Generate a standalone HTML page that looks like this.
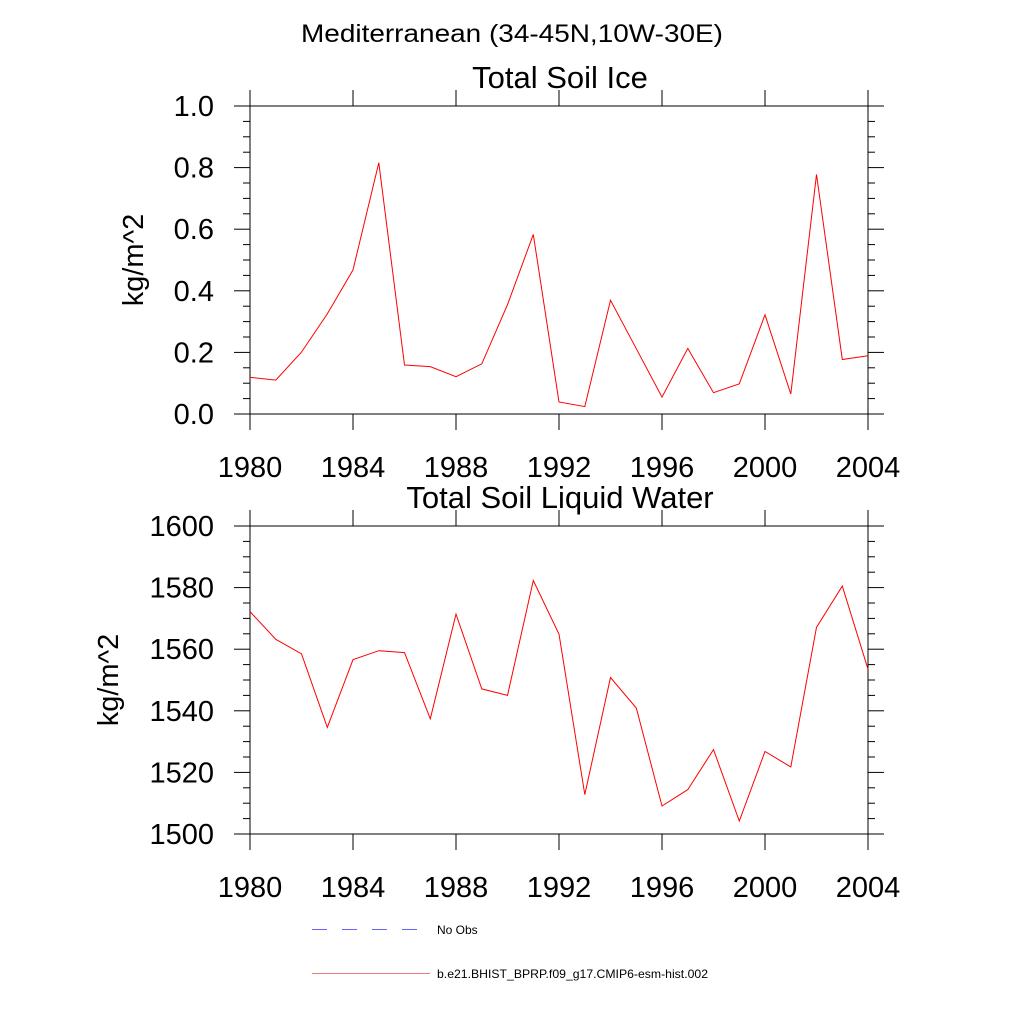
<!DOCTYPE html>
<html><head><meta charset="utf-8"><style>
html,body{margin:0;padding:0;background:#fff;}
svg{display:block;font-family:"Liberation Sans",sans-serif;}
</style></head>
<body>
<svg id="chart" width="1024" height="1024" viewBox="0 0 1024 1024">
<text x="512" y="42" font-size="25" text-anchor="middle" textLength="422" lengthAdjust="spacingAndGlyphs">Mediterranean (34-45N,10W-30E)</text>
<g id="p1"></g><g id="p2"></g>
<g>
<line x1="312" y1="929.5" x2="418" y2="929.5" stroke="#6666ff" stroke-width="1" stroke-dasharray="15,15"/>
<text x="437" y="934" font-size="12">No Obs</text>
<line x1="312" y1="973.5" x2="430" y2="973.5" stroke="#ee7777" stroke-width="1"/>
<text x="437" y="978" font-size="12" textLength="271" lengthAdjust="spacingAndGlyphs">b.e21.BHIST_BPRP.f09_g17.CMIP6-esm-hist.002</text>
</g>
</svg>
<script>
const years = [1980,1981,1982,1983,1984,1985,1986,1987,1988,1989,1990,1991,1992,1993,1994,1995,1996,1997,1998,1999,2000,2001,2002,2003,2004];
const iceValues = [0.119,0.110,0.201,0.325,0.468,0.816,0.159,0.154,0.121,0.163,0.355,0.583,0.039,0.024,0.369,0.212,0.055,0.213,0.069,0.098,0.322,0.065,0.778,0.177,0.189];
const waterValues = [1572.2,1563.2,1558.5,1534.6,1556.6,1559.5,1558.9,1537.4,1571.4,1547.1,1545.0,1582.3,1564.9,1512.8,1550.8,1540.9,1509.1,1514.4,1527.4,1504.2,1526.8,1521.8,1567.1,1580.5,1553.5];
const xTicks = [1980,1984,1988,1992,1996,2000,2004];
const iceTicks = [0,0.2,0.4,0.6,0.8,1.0];
const iceTickLabels = ["0.0","0.2","0.4","0.6","0.8","1.0"];
const waterTicks = [1500,1520,1540,1560,1580,1600];
const waterTickLabels = ["1500","1520","1540","1560","1580","1600"];

const NS="http://www.w3.org/2000/svg";
function mk(tag, attrs, parent){const e=document.createElementNS(NS,tag);for(const k in attrs)e.setAttribute(k,attrs[k]);parent.appendChild(e);return e;}

function drawPanel(g, top, bottom, ymin, ymax, ticks, labels, vals, title, prefix){
  const L=250, R=868;
  const xs=v=>L+(v-1980)/(2004-1980)*(R-L);
  const ys=v=>bottom-(v-ymin)/(ymax-ymin)*(bottom-top);
  const t=mk('text',{x:560,y:top-18,'font-size':31,'text-anchor':'middle'},g);
  
  
  t.textContent=title;
  const fr=mk('rect',{x:L,y:top,width:R-L,height:bottom-top,fill:'none',stroke:'#000','stroke-width':1},g);
  
  
  const step=(ticks[1]-ticks[0])/4;
  for(let v=ymin; v<=ymax+1e-9; v+=step){
    const y=ys(v); const r=(v-ymin)/(ticks[1]-ticks[0]); const major=Math.abs(r-Math.round(r))<1e-6;
    const len=major?16:7;
    mk('line',{x1:L-len,y1:y,x2:L,y2:y,stroke:'#000','stroke-width':1},g);
    mk('line',{x1:R,y1:y,x2:R+len,y2:y,stroke:'#000','stroke-width':1},g);
  }
  ticks.forEach((v,i)=>{
    const tl=mk('text',{x:214,y:ys(v)+10,'font-size':29,'text-anchor':'end'},g);
    
    
    tl.textContent=labels[i];
  });
  xTicks.forEach(v=>{
    const x=xs(v);
    mk('line',{x1:x,y1:top-16,x2:x,y2:top,stroke:'#000','stroke-width':1},g);
    mk('line',{x1:x,y1:bottom,x2:x,y2:bottom+16,stroke:'#000','stroke-width':1},g);
    const tl=mk('text',{x:x,y:bottom+63,'font-size':29,'text-anchor':'middle'},g);
    
    
    tl.textContent=String(v);
  });
  const yc=(top+bottom)/2;
  const yt=mk('text',{x:0,y:0,'font-size':29,'text-anchor':'middle',transform:`translate(${prefix==='ice'?143:118},${yc}) rotate(-90)`},g);
  
  
  yt.textContent='kg/m^2';
  const pts=vals.map((v,i)=>xs(years[i]).toFixed(1)+','+ys(v).toFixed(1)).join(' ');
  const pl=mk('polyline',{points:pts,fill:'none',stroke:'#ff0000','stroke-width':1},g);
  
  
}
const g1=document.getElementById('p1');


const g2=document.getElementById('p2');


drawPanel(g1,106,414,0,1,iceTicks,iceTickLabels,iceValues,'Total Soil Ice','ice');
drawPanel(g2,526,834,1500,1600,waterTicks,waterTickLabels,waterValues,'Total Soil Liquid Water','water');
</script>
</body></html>
